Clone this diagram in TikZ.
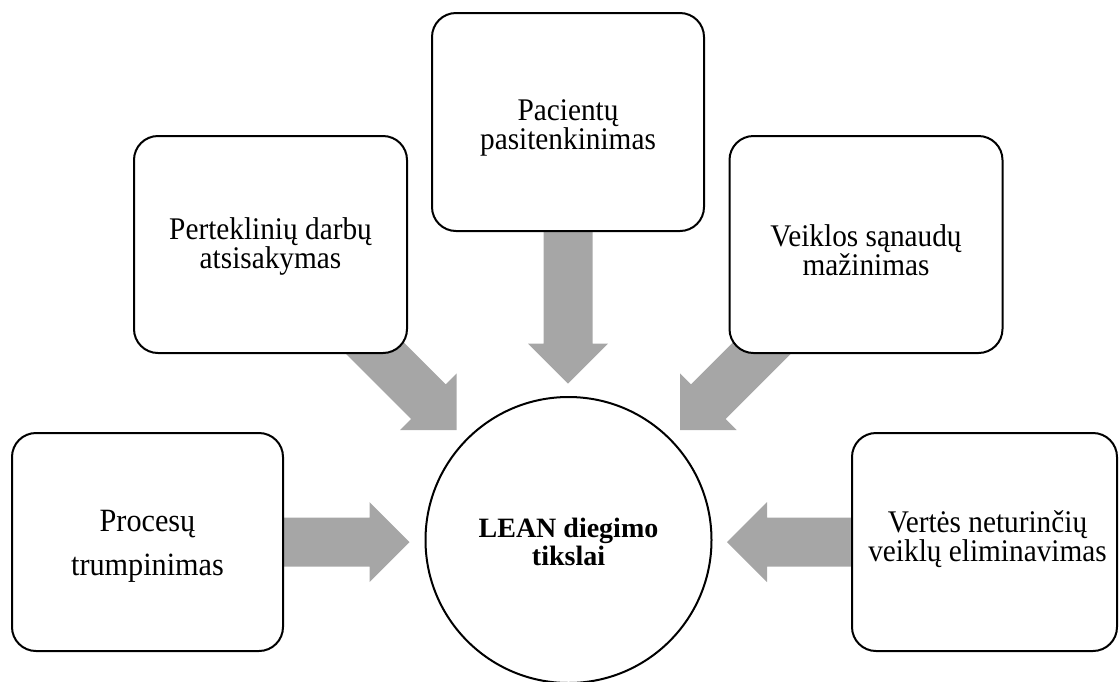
\documentclass[tikz,border=0pt]{standalone}
\usepackage{fontspec}
\setmainfont{Liberation Serif}
\newfontfamily\boxfont{Liberation Serif}[FakeStretch=0.93]
\usetikzlibrary{calc,backgrounds}
\definecolor{arrowgray}{RGB}{166,166,166}
\tikzset{
  goalbox/.style={draw=black, line width=2pt, fill=white, rounded corners=24pt,
    minimum width=271pt, minimum height=218pt, inner sep=0pt},
  boxtext/.style={inner sep=0pt, align=center},
  hub/.style={circle, draw=black, line width=2pt, fill=white, minimum size=286pt,
    inner sep=0pt},
  hubtext/.style={inner sep=0pt, align=center, font=\fontsize{28}{28}\selectfont\bfseries},
  blockfill/.style={fill=arrowgray}
}
\newcommand\tightlines{\boxfont\fontsize{31.5}{23}\selectfont}
\newcommand\looselines{\boxfont\fontsize{31.5}{25}\selectfont}
% thick block arrow from #1 (tail) to #2 (tip)
\newcommand\blockarrow[2]{%
  \path ($(#2)!40pt!(#1)$) coordinate (ah);
  \fill[blockfill] ($(#1)!24.5pt!90:(#2)$) -- ($(ah)!24.5pt!90:(#2)$)
    -- ($(ah)!40pt!90:(#2)$) -- (#2) -- ($(ah)!40pt!-90:(#2)$)
    -- ($(ah)!24.5pt!-90:(#2)$) -- ($(#1)!24.5pt!-90:(#2)$) -- cycle;}
\begin{document}
\begin{tikzpicture}[x=1pt,y=-1pt]
\useasboundingbox (0,0) rectangle (1119,681);

% central goal
\node[hub] (goal) at (568.5,540) {};
\node[hubtext] (goalT) at ($(goal.center)+(0,1.5)$) {LEAN diegimo\\tikslai};

% surrounding objectives
\node[goalbox] (proc) at (147.5,542) {};
\node[goalbox, minimum width=273pt, minimum height=217pt] (pert) at (270.5,244.5) {};
\node[goalbox, minimum width=272pt] (pac) at (568,122) {};
\node[goalbox, minimum width=273pt, minimum height=217pt] (veik) at (866,244.5) {};
\node[goalbox, minimum width=265pt] (vert) at (984.5,542) {};

\node[boxtext, font=\boxfont\fontsize{32.5}{44}\selectfont] (procT) at ($(proc.center)+(0,4.5)$) {Procesų\\trumpinimas};
\node[boxtext, font=\looselines] (pertT) at ($(pert.center)+(0,2.3)$) {Perteklinių darbų\\atsisakymas};
\node[boxtext, font=\tightlines] (pacT) at ($(pac.center)+(0,6)$) {Pacientų\\pasitenkinimas};
\node[boxtext, font=\looselines] (veikT) at ($(veik.center)+(0,6)$) {Veiklos sąnaudų\\mažinimas};
\node[boxtext, font=\tightlines] (vertT) at ($(vert.center)+(3,-3)$) {Vertės neturinčių\\veiklų eliminavimas};

% arrow tips near the goal and hidden tails inside the upper boxes
\coordinate (tipW) at (409.5,542);
\coordinate (tipE) at (727,542);
\coordinate (tipN) at (568,383.5);
\coordinate (tipNW) at (456.7,430);
\coordinate (tipNE) at (680,430);
\coordinate (tailNW) at (350.6,323.9);
\coordinate (tailNE) at (786,324);

\begin{scope}[on background layer]
  \blockarrow{proc.east}{tipW}
  \blockarrow{vert.west}{tipE}
  \blockarrow{pac.south}{tipN}
  \blockarrow{tailNW}{tipNW}
  \blockarrow{tailNE}{tipNE}
\end{scope}
\end{tikzpicture}
\end{document}
